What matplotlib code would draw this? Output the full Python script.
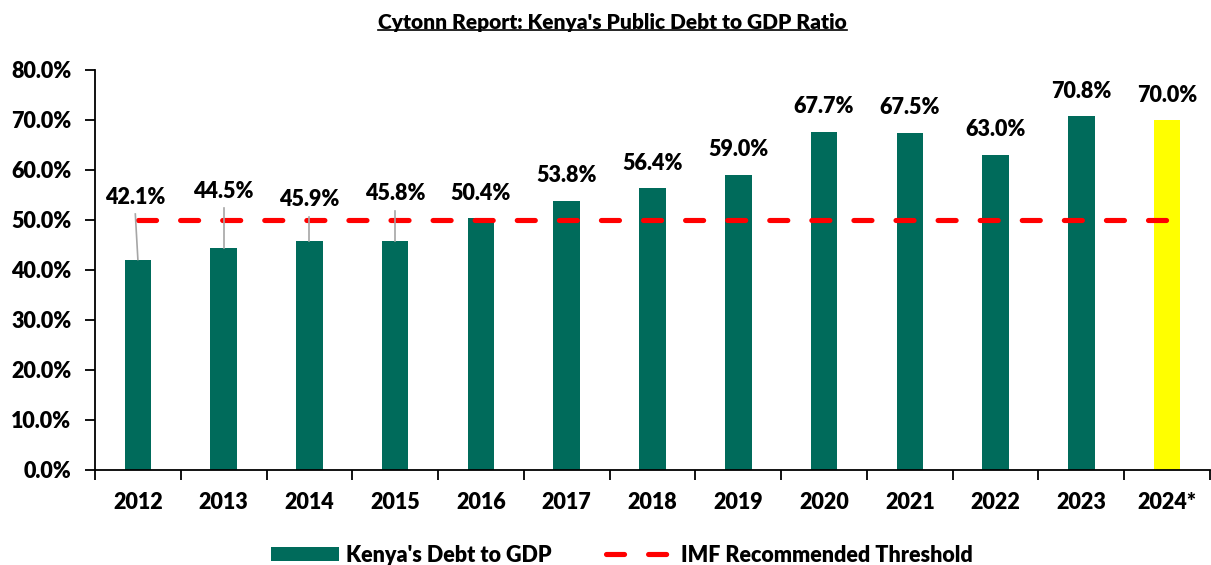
import matplotlib
matplotlib.use('Agg')
import matplotlib.pyplot as plt
from matplotlib.lines import Line2D
from matplotlib.patches import Patch
import numpy as np

plt.rcParams['font.family'] = ['Lato', 'DejaVu Sans']
plt.rcParams['font.weight'] = 'bold'
plt.rcParams['lines.scale_dashes'] = False

years = ['2012', '2013', '2014', '2015', '2016', '2017', '2018',
         '2019', '2020', '2021', '2022', '2023', '2024*']
debt_to_gdp = [42.1, 44.5, 45.9, 45.8, 50.4, 53.8, 56.4,
               59.0, 67.7, 67.5, 63.0, 70.8, 70.0]
imf_threshold = 50.0

# labels that sit on top of the threshold line get lifted with a leader line
moved_labels = {0: (-0.03, 54.6), 1: (0.0, 55.8), 2: (0.0, 54.0), 3: (0.0, 55.2)}

green = '#006B5B'
yellow = '#FFFF00'
red = '#FF0000'
fs = 15.5
dash = (13, 17.3)

fig = plt.figure(figsize=(12.11, 5.65), dpi=100)
ax = fig.add_axes([95 / 1211, 95 / 565, 1115 / 1211, 400 / 565])

x = np.arange(len(years))
colors = [green] * (len(years) - 1) + [yellow]
ax.bar(x, debt_to_gdp, width=0.31, color=colors, zorder=2)

ax.plot(x, [imf_threshold] * len(x), color=red, lw=3.7,
        dashes=dash, dash_capstyle='round', zorder=3)

for i, v in enumerate(debt_to_gdp):
    if i in moved_labels:
        dx, ly = moved_labels[i]
        ax.plot([i, i + dx], [v, ly - 3.4], color='#A6A6A6', lw=1.2, zorder=4)
        ax.text(i + dx, ly, f'{v:.1f}%', ha='center', va='center',
                fontsize=fs, fontweight='heavy', zorder=5)
    else:
        ax.text(i, v + 5, f'{v:.1f}%', ha='center', va='center',
                fontsize=fs, fontweight='heavy', zorder=5)

ax.set_xlim(-0.5, len(years) - 0.5)
ax.set_ylim(0, 80)
ax.set_yticks(np.arange(0, 81, 10))
ax.set_yticklabels([f'{t:.1f}%' for t in np.arange(0, 81, 10)],
                   fontsize=fs, fontweight='heavy')
ax.set_xticks(x)
ax.set_xticklabels(years, fontsize=fs, fontweight='heavy')
ax.set_xticks(np.arange(-0.5, len(years)), minor=True)
ax.tick_params(axis='x', which='major', length=0, pad=16)
ax.tick_params(axis='x', which='minor', length=7, width=1.3, direction='out')
ax.tick_params(axis='y', length=7, width=1.3, direction='out', pad=10)
for side in ['top', 'right']:
    ax.spines[side].set_visible(False)
for side in ['left', 'bottom']:
    ax.spines[side].set_linewidth(1.3)

title = fig.text(0.5058, 1 - 22 / 565, "Cytonn Report: Kenya's Public Debt to GDP Ratio",
                 ha='center', va='center', fontsize=15, fontweight='heavy')

handles = [Patch(facecolor=green, edgecolor='none'),
           Line2D([0], [0], color=red, lw=3.7, dashes=dash,
                  dash_capstyle='round')]
fig.legend(handles, ["Kenya's Debt to GDP", 'IMF Recommended Threshold'],
           loc='center', bbox_to_anchor=(0.5136, 1 - 555 / 565), ncol=2,
           frameon=False, prop={'size': fs, 'weight': 'heavy'},
           handlelength=3.15, handleheight=0.6,
           columnspacing=2.5, handletextpad=0.35)

# underline the title
fig.canvas.draw()
bb = title.get_window_extent().transformed(fig.transFigure.inverted())
fig.add_artist(Line2D([bb.x0, bb.x1], [bb.y0 + 0.002, bb.y0 + 0.002],
                      transform=fig.transFigure, color='black', lw=1.2))

fig.savefig('out.png', dpi=100)
